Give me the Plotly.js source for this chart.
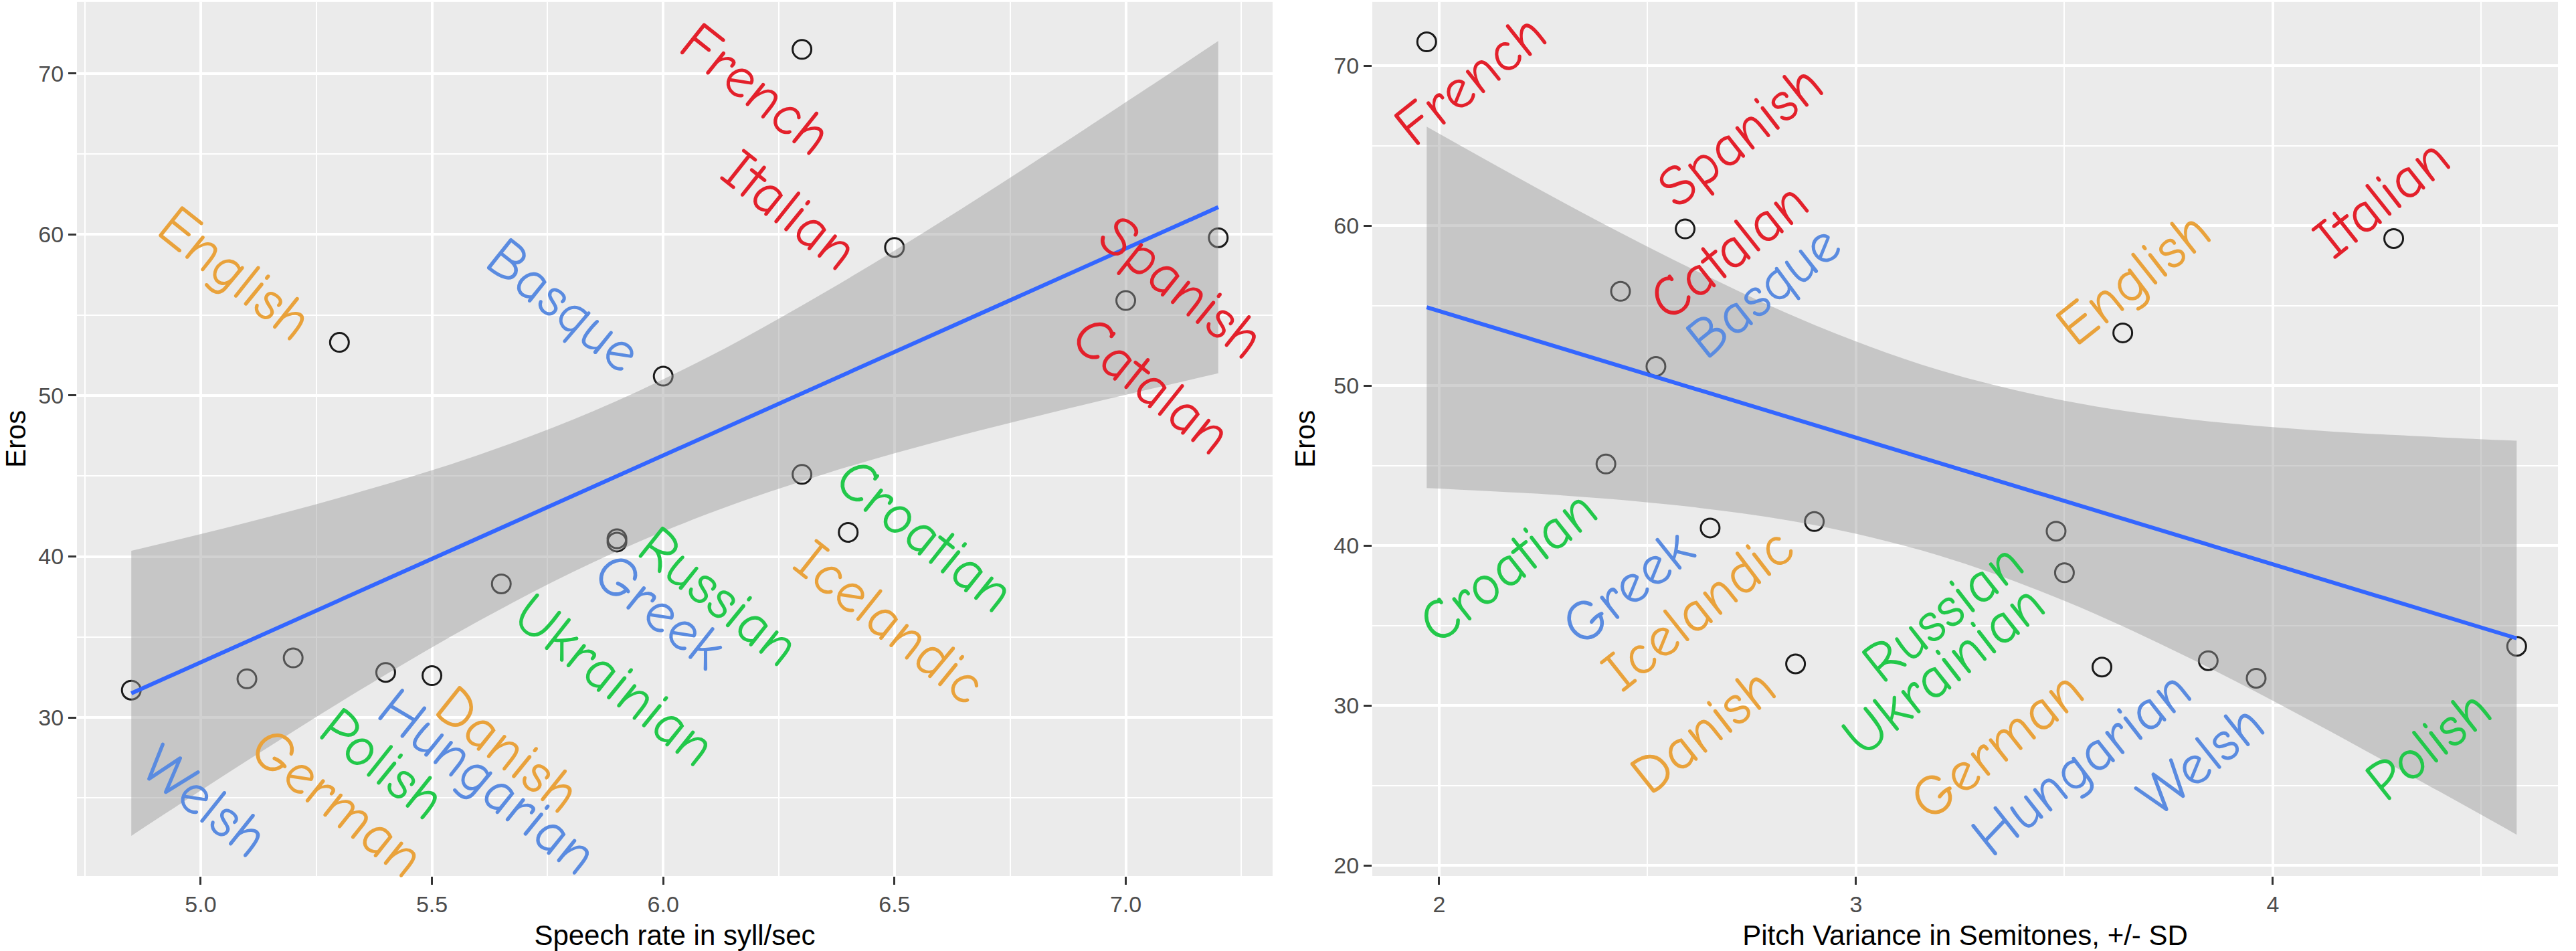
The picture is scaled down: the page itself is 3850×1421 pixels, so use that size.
<!DOCTYPE html>
<html>
<head>
<meta charset="utf-8">
<script src="https://cdn.plot.ly/plotly-3.0.1.min.js"></script>
<style>
  html, body { margin: 0; padding: 0; background: #fff; }
  #chart { width: 3850px; height: 1421px; }
</style>
</head>
<body>
<div id="chart"></div>
<script>
// one row per language
var languages = ["French", "Spanish", "Catalan", "Italian",
                 "English", "Danish", "German", "Icelandic",
                 "Croatian", "Russian", "Ukrainian", "Polish",
                 "Basque", "Greek", "Hungarian", "Welsh"];
var family = ["Romance", "Romance", "Romance", "Romance",
              "Germanic", "Germanic", "Germanic", "Germanic",
              "Slavic", "Slavic", "Slavic", "Slavic",
              "Other", "Other", "Other", "Other"];
var speechRate = [6.3, 7.2, 7.0, 6.5, 5.3, 5.5, 5.1, 6.4,
                  6.3, 5.9, 5.65, 5.2, 6.0, 5.9, 5.4, 4.85];
var pitchVar = [1.97, 2.59, 2.435, 4.29, 3.64, 2.855, 3.59, 2.9,
                2.4, 3.48, 3.5, 4.585, 2.52, 2.65, 3.845, 3.96];
var eros = [71.5, 59.8, 55.9, 59.2, 53.3, 32.6, 32.4, 41.5,
            45.1, 40.9, 38.3, 33.7, 51.2, 41.1, 32.8, 31.7];

// lm fit and its confidence band
var rateFitX = [4.85, 7.2];
var rateFitY = [31.5, 61.7];
var rateBandX = [4.85, 5.1, 5.35, 5.6, 5.85, 6.1, 6.35, 6.6, 6.85, 7.05, 7.2];
var rateBandLo = [22.65, 27.31, 31.8, 35.98, 39.66, 42.69, 45.14, 47.19, 49.01, 50.38, 51.38];
var rateBandHi = [40.35, 42.11, 44.06, 46.3, 49.04, 52.43, 56.42, 60.79, 65.39, 69.16, 72.02];

var pitchFitX = [1.97, 4.585];
var pitchFitY = [54.9, 34.2];
var pitchBandX = [1.97, 2.3, 2.6, 2.9, 3.2, 3.5, 3.8, 4.1, 4.4, 4.585];
var pitchBandLo = [43.6, 43.13, 42.43, 41.28, 39.37, 36.54, 32.96, 28.91, 24.61, 21.92];
var pitchBandHi = [66.2, 61.43, 57.39, 53.8, 50.97, 49.06, 47.9, 47.21, 46.77, 46.56];

// where each text label sits (centre, data units)
var rateLabelAt = {
  French: [6.2, 69.0], Spanish: [7.12, 56.7], Catalan: [7.056, 50.6], Italian: [6.273, 61.5],
  English: [5.074, 57.6], Danish: [5.664, 28.0], German: [5.295, 24.7], Icelandic: [6.49, 35.9],
  Croatian: [6.566, 41.3], Russian: [6.12, 37.5], Ukrainian: [5.894, 32.3], Polish: [5.392, 27.1],
  Basque: [5.785, 55.6], Greek: [5.993, 36.6], Hungarian: [5.62, 26.0], Welsh: [5.009, 24.8]
};
var pitchLabelAt = {
  French: [2.075, 69.1], Spanish: [2.722, 65.6], Catalan: [2.695, 58.4], Italian: [4.262, 61.7],
  English: [3.665, 56.7], Danish: [2.633, 28.4], German: [3.339, 27.5], Icelandic: [2.621, 36.0],
  Croatian: [2.165, 38.7], Russian: [3.209, 35.8], Ukrainian: [3.21, 32.2], Polish: [4.374, 27.5],
  Basque: [2.778, 55.9], Greek: [2.453, 37.4], Hungarian: [3.541, 26.4], Welsh: [3.828, 26.6]
};

var familyColor = {
  Romance: "#E3202B",
  Germanic: "#E9A23B",
  Slavic: "#22C84A",
  Other: "#5A8BE0"
};

var axisFont = "Liberation Sans, Arial, sans-serif";
var labelFont = "Comic Sans MS, Comic Neue, DejaVu Sans, sans-serif";

function panelTraces(xs, bandX, bandLo, bandHi, fitX, fitY, ax, ay) {
  return [
    {
      x: xs, y: eros, xaxis: ax, yaxis: ay,
      type: "scatter", mode: "markers",
      marker: { symbol: "circle-open", size: 28, color: "#1a1a1a", line: { width: 3 } },
      hoverinfo: "skip"
    },
    {
      x: bandX, y: bandLo, xaxis: ax, yaxis: ay,
      type: "scatter", mode: "lines", line: { width: 0, shape: "spline" },
      hoverinfo: "skip"
    },
    {
      x: bandX, y: bandHi, xaxis: ax, yaxis: ay,
      type: "scatter", mode: "lines", line: { width: 0, shape: "spline" },
      fill: "tonexty", fillcolor: "rgba(153,153,153,0.45)",
      hoverinfo: "skip"
    },
    {
      x: fitX, y: fitY, xaxis: ax, yaxis: ay,
      type: "scatter", mode: "lines",
      line: { color: "#3366FF", width: 6 },
      hoverinfo: "skip"
    }
  ];
}

function panelLabels(where, ax, ay, angle) {
  return languages.map(function (lang, i) {
    return {
      x: where[lang][0], y: where[lang][1], xref: ax, yref: ay,
      text: lang, showarrow: false, textangle: angle,
      xanchor: "center", yanchor: "middle",
      font: { family: labelFont, size: 86, color: familyColor[family[i]] }
    };
  });
}

function baseAxis() {
  return {
    showgrid: true, gridcolor: "#FFFFFF", gridwidth: 4,
    zeroline: false, showline: false,
    ticks: "outside", ticklen: 12, tickwidth: 3, tickcolor: "#333333",
    tickfont: { family: axisFont, size: 34, color: "#4D4D4D" },
    fixedrange: true
  };
}

var titleFont = { family: axisFont, size: 42, color: "#000" };

var xaxis = Object.assign(baseAxis(), {
  domain: [115 / 3850, 1902 / 3850], range: [4.7325, 7.3175],
  anchor: "y", dtick: 0.5, tick0: 0, tickformat: ".1f",
  minor: { dtick: 0.25, showgrid: true, gridcolor: "#FFFFFF", gridwidth: 2 },
  title: { text: "Speech rate in syll/sec", font: titleFont, standoff: 20 }
});
var yaxis = Object.assign(baseAxis(), {
  domain: [0.0788, 0.998], range: [20.15, 74.45],
  anchor: "x", dtick: 10, tick0: 0,
  minor: { dtick: 5, showgrid: true, gridcolor: "#FFFFFF", gridwidth: 2 },
  title: { text: "Eros", font: titleFont, standoff: 18 }
});
var xaxis2 = Object.assign(baseAxis(), {
  domain: [2051 / 3850, 3823 / 3850], range: [1.8395, 4.684],
  anchor: "y2", dtick: 1, tick0: 0,
  minor: { dtick: 0.5, showgrid: true, gridcolor: "#FFFFFF", gridwidth: 2 },
  title: { text: "Pitch Variance in Semitones, +/- SD", font: titleFont, standoff: 20 }
});
var yaxis2 = Object.assign(baseAxis(), {
  domain: [0.0788, 0.998], range: [19.33, 74.0],
  anchor: "x2", dtick: 10, tick0: 0,
  minor: { dtick: 5, showgrid: true, gridcolor: "#FFFFFF", gridwidth: 2 },
  title: { text: "Eros", font: titleFont, standoff: 14 }
});

var data = panelTraces(speechRate, rateBandX, rateBandLo, rateBandHi, rateFitX, rateFitY, "x", "y")
  .concat(panelTraces(pitchVar, pitchBandX, pitchBandLo, pitchBandHi, pitchFitX, pitchFitY, "x2", "y2"));

var layout = {
  width: 3850,
  height: 1421,
  margin: { l: 0, r: 0, t: 0, b: 0 },
  paper_bgcolor: "#FFFFFF",
  plot_bgcolor: "#EBEBEB",
  showlegend: false,
  xaxis: xaxis, yaxis: yaxis, xaxis2: xaxis2, yaxis2: yaxis2,
  annotations: panelLabels(rateLabelAt, "x", "y", 38.5)
    .concat(panelLabels(pitchLabelAt, "x2", "y2", -38.5))
};

Plotly.newPlot("chart", data, layout, { staticPlot: true, displayModeBar: false });
</script>
</body>
</html>
